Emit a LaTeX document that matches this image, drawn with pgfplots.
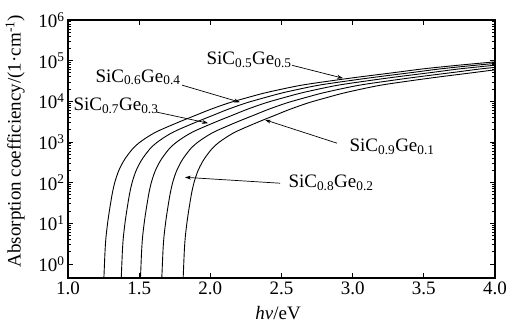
\documentclass[border=0pt]{standalone}
\usepackage{fontspec}
\setmainfont{Liberation Serif}
\usepackage{pgfplots}
\pgfplotsset{compat=1.18}
\usetikzlibrary{arrows.meta}
\begin{document}
\begin{tikzpicture}
\begin{axis}[
  at={(0,0)}, anchor=south west,
  width=427pt, height=258pt, scale only axis,
  xmin=1, xmax=4, ymin=0.45, ymax=1e6, ymode=log,
  xtick={1,1.5,2,2.5,3,3.5,4},
  /pgf/number format/fixed, /pgf/number format/fixed zerofill,
  /pgf/number format/precision=1,
  /pgf/number format/assume math mode=true,
  ytick={1,10,100,1000,10000,100000,1000000},
  yticklabels={10\textsuperscript{0},10\textsuperscript{1},10\textsuperscript{2},10\textsuperscript{3},10\textsuperscript{4},10\textsuperscript{5},10\textsuperscript{6}},
  tick label style={font=\fontsize{19}{22}\selectfont},
  xlabel={\textit{hν}/eV},
  ylabel={Absorption coefficiency/(1·cm\textsuperscript{-1})},
  every axis x label/.style={at={(axis description cs:0.492,-0.135)},anchor=center,font=\fontsize{19}{22}\selectfont},
  every axis y label/.style={at={(axis description cs:-0.124,0.53)},anchor=center,rotate=90,font=\fontsize{19}{22}\selectfont},
  axis line style={line width=1.1pt},
  every tick/.style={black, line width=0.8pt},
  major tick length=5pt, minor tick length=3pt,
]
% SiC0.5Ge0.5
\addplot[black, line width=0.9pt, smooth, tension=0.5] coordinates {(1.248,0.3)(1.252,0.447)(1.260,2.0)(1.267,4.57)(1.280,11.2)(1.295,25.1)(1.312,56.2)(1.330,105)(1.355,191)(1.389,331)(1.420,479)(1.459,708)(1.500,955)(1.553,1288)(1.600,1622)(1.646,1950)(1.705,2399)(1.800,3311)(1.893,4467)(2.000,6310)(2.130,9120)(2.270,12589)(2.400,16596)(2.630,24547)(2.860,32359)(3.050,39811)(3.300,51286)(3.500,63096)(3.750,77625)(4.000,93325)};
% SiC0.6Ge0.4
\addplot[black, line width=0.9pt, smooth, tension=0.5] coordinates {(1.370,0.3)(1.374,0.447)(1.382,2.0)(1.389,4.57)(1.402,11.2)(1.417,25.1)(1.434,56.2)(1.452,105)(1.477,191)(1.511,331)(1.542,479)(1.581,708)(1.622,955)(1.675,1288)(1.722,1622)(1.768,1950)(1.827,2399)(1.922,3311)(2.015,4467)(2.122,6310)(2.252,9120)(2.392,12589)(2.522,16596)(2.752,24547)(2.982,32359)(3.172,39811)(3.422,51286)(3.622,63096)(3.872,77625)(4.122,93325)};
% SiC0.7Ge0.3
\addplot[black, line width=0.9pt, smooth, tension=0.5] coordinates {(1.505,0.3)(1.509,0.447)(1.517,2.0)(1.524,4.57)(1.537,11.2)(1.552,25.1)(1.569,56.2)(1.587,105)(1.612,191)(1.646,331)(1.677,479)(1.716,708)(1.757,955)(1.810,1288)(1.857,1622)(1.903,1950)(1.962,2399)(2.057,3311)(2.150,4467)(2.257,6310)(2.387,9120)(2.527,12589)(2.657,16596)(2.887,24547)(3.117,32359)(3.307,39811)(3.557,51286)(3.757,63096)(4.007,77625)};
% SiC0.8Ge0.2
\addplot[black, line width=0.9pt, smooth, tension=0.5] coordinates {(1.655,0.3)(1.659,0.447)(1.667,2.0)(1.674,4.57)(1.687,11.2)(1.702,25.1)(1.719,56.2)(1.737,105)(1.762,191)(1.796,331)(1.827,479)(1.866,708)(1.907,955)(1.960,1288)(2.007,1622)(2.053,1950)(2.112,2399)(2.207,3311)(2.300,4467)(2.407,6310)(2.537,9120)(2.677,12589)(2.807,16596)(3.037,24547)(3.267,32359)(3.457,39811)(3.707,51286)(3.907,63096)(4.157,77625)};
% SiC0.9Ge0.1
\addplot[black, line width=0.9pt, smooth, tension=0.5] coordinates {(1.805,0.3)(1.809,0.447)(1.817,2.0)(1.824,4.57)(1.837,11.2)(1.852,25.1)(1.869,56.2)(1.887,105)(1.912,191)(1.946,331)(1.977,479)(2.016,708)(2.057,955)(2.110,1288)(2.157,1622)(2.203,1950)(2.262,2399)(2.357,3311)(2.450,4467)(2.557,6310)(2.687,9120)(2.827,12589)(2.957,16596)(3.187,24547)(3.417,32359)(3.607,39811)(3.857,51286)(4.057,63096)};

\begin{scope}[font=\fontsize{19}{22}\selectfont]
\node at (axis cs:2.272,1.03e5) {SiC\textsubscript{0.5}Ge\textsubscript{0.5}};
\draw[line width=0.7pt,-{Stealth[length=6pt,width=4pt]}] (axis cs:2.574,7.7e4) -- (axis cs:2.932,3.7e4);
\node at (axis cs:1.492,3.9e4) {SiC\textsubscript{0.6}Ge\textsubscript{0.4}};
\draw[line width=0.7pt,-{Stealth[length=6pt,width=4pt]}] (axis cs:1.801,2.5e4) -- (axis cs:2.208,9.5e3);
\node at (axis cs:1.337,7.6e3) {SiC\textsubscript{0.7}Ge\textsubscript{0.3}};
\draw[line width=0.7pt,-{Stealth[length=6pt,width=4pt]}] (axis cs:1.625,5.4e3) -- (axis cs:1.984,2.9e3);
\node at (axis cs:2.848,96.6) {SiC\textsubscript{0.8}Ge\textsubscript{0.2}};
\draw[line width=0.7pt,-{Stealth[length=6pt,width=4pt]}] (axis cs:2.49,96.6) -- (axis cs:1.822,135);
\node at (axis cs:3.277,741) {SiC\textsubscript{0.9}Ge\textsubscript{0.1}};
\draw[line width=0.7pt,-{Stealth[length=6pt,width=4pt]}] (axis cs:2.89,933) -- (axis cs:2.384,3.5e3);
\end{scope}
\end{axis}
\pgfresetboundingbox
\useasboundingbox (-68pt,-46pt) rectangle (441pt,278pt);
\end{tikzpicture}
\end{document}
